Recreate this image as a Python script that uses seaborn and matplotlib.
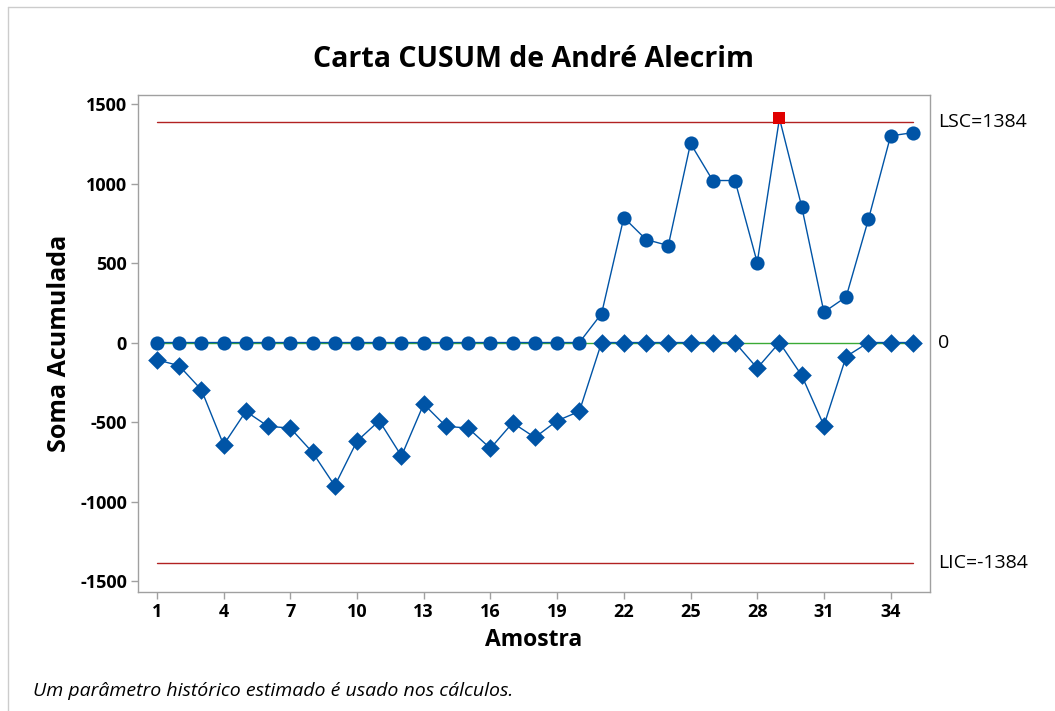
import numpy as np
import pandas as pd
import matplotlib
matplotlib.use("Agg")
import matplotlib.pyplot as plt
from matplotlib.lines import Line2D
import seaborn as sns

amostra = list(range(1, 36))
cusum_sup = [0, 0, 0, 0, 0, 0, 0, 0, 0, 0,
             0, 0, 0, 0, 0, 0, 0, 0, 0, 0,
             182, 786, 648, 610, 1252, 1019, 1019, 503, 1410, 855,
             191, 287, 774, 1300, 1320]
cusum_inf = [-108, -146, -297, -643, -433, -527, -538, -691, -901, -620,
             -492, -714, -387, -527, -538, -666, -505, -597, -492, -433,
             0, 0, 0, 0, 0, 0, 0, -161, 0, -207,
             -522, -88, 0, 0, 0]
lsc = 1384
lic = -1384
centro = 0
yticks = [-1500, -1000, -500, 0, 500, 1000, 1500]
xticks = [1, 4, 7, 10, 13, 16, 19, 22, 25, 28, 31, 34]

df = pd.DataFrame({"amostra": amostra, "sup": cusum_sup, "inf": cusum_inf})
df["fora"] = (df["sup"] > lsc) | (df["inf"] < lic)

AZUL = "#0054A6"
VERMELHO = "#B22222"
VERDE = "#3AAA35"

sns.set_theme(style="white")
plt.rcParams["font.family"] = ["Open Sans", "DejaVu Sans"]
plt.rcParams["axes.unicode_minus"] = False
plt.rcParams["text.color"] = "black"
plt.rcParams["axes.labelcolor"] = "black"
plt.rcParams["xtick.labelcolor"] = "black"
plt.rcParams["ytick.labelcolor"] = "black"

fig = plt.figure(figsize=(10.55, 7.11), dpi=100)
ax = fig.add_axes([0.1308, 0.1674, 0.7507, 0.699])

# linhas de controle
ax.plot([amostra[0], amostra[-1]], [lsc, lsc], color=VERMELHO, lw=1, zorder=1)
ax.plot([amostra[0], amostra[-1]], [lic, lic], color=VERMELHO, lw=1, zorder=1)
ax.plot([amostra[0], amostra[-1]], [centro, centro], color=VERDE, lw=1, zorder=1)

# séries
sns.lineplot(data=df, x="amostra", y="sup", color=AZUL, lw=1, ax=ax, zorder=2)
sns.lineplot(data=df, x="amostra", y="inf", color=AZUL, lw=1, ax=ax, zorder=2)
sns.scatterplot(data=df[~df["fora"]], x="amostra", y="sup", marker="o", s=10.2 ** 2,
                color=AZUL, linewidth=0, ax=ax, zorder=3)
sns.scatterplot(data=df, x="amostra", y="inf", marker="D", s=9.5 ** 2,
                color=AZUL, linewidth=0, ax=ax, zorder=3)
sns.scatterplot(data=df[df["fora"]], x="amostra", y="sup", marker="s", s=9.2 ** 2,
                color="#E00000", linewidth=0, ax=ax, zorder=4)

ax.set_xlim(0.15, 35.77)
ax.set_ylim(-1569, 1557)
ax.set_xticks(xticks)
ax.set_yticks(yticks)

for s in ax.spines.values():
    s.set_color("#A0A0A0")
    s.set_linewidth(1)
ax.tick_params(axis="both", direction="out", length=5, width=1, color="#A0A0A0",
               labelsize=13, pad=3, bottom=True, left=True)
for lab in ax.get_xticklabels() + ax.get_yticklabels():
    lab.set_fontweight("bold")

ax.set_xlabel("Amostra", fontsize=16.5, fontweight="bold", labelpad=5)
ax.set_ylabel("Soma Acumulada", fontsize=18, fontweight="bold", labelpad=6)
ax.set_title("Carta CUSUM de André Alecrim", fontsize=20.5, fontweight="bold", pad=20)

# rótulos à direita
trans = ax.get_yaxis_transform()
ax.text(1.01, lsc, f"LSC={lsc}", transform=trans, va="center", ha="left", fontsize=14)
ax.text(1.01, centro, f"{centro}", transform=trans, va="center", ha="left", fontsize=14)
ax.text(1.01, lic, f"LIC={lic}", transform=trans, va="center", ha="left", fontsize=14)

fig.text(33 / 1055, 1 - 691 / 711, "Um parâmetro histórico estimado é usado nos cálculos.",
         fontsize=14, fontstyle="italic", va="center", ha="left")

# moldura cinza
fig.add_artist(Line2D([8 / 1055, 8 / 1055], [0, 1 - 7 / 711], color="#CCCCCC", lw=1,
                      transform=fig.transFigure))
fig.add_artist(Line2D([8 / 1055, 1], [1 - 7 / 711, 1 - 7 / 711], color="#CCCCCC", lw=1,
                      transform=fig.transFigure))

fig.savefig("out.png", dpi=100)
